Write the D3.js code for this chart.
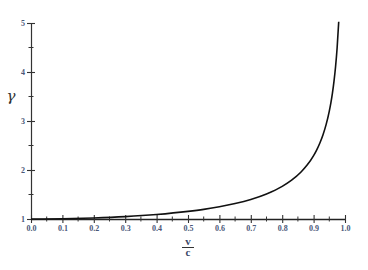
<!DOCTYPE html>
<html>
<head>
<meta charset="utf-8">
<script src="https://cdn.jsdelivr.net/npm/d3@7"></script>
<style>
  body { margin: 0; background: #fff; }
  .tick text { font-family: "Liberation Serif", "DejaVu Serif", serif; font-size: 8px; font-weight: bold; fill: #4a5878; }
</style>
</head>
<body>
<div class="chart"></div>
<script>
var svgWidth = 368;
var svgHeight = 270;

var margin = { top: 23, right: 23, bottom: 51, left: 31 };
var width = svgWidth - margin.left - margin.right;
var height = svgHeight - margin.top - margin.bottom;

// tick values
var xMajor = [0, 0.1, 0.2, 0.3, 0.4, 0.5, 0.6, 0.7, 0.8, 0.9, 1.0];
var xMinor = [0.05, 0.15, 0.25, 0.35, 0.45, 0.55, 0.65, 0.75, 0.85, 0.95];
var yMajor = [1, 2, 3, 4, 5];
var yMinor = [1.5, 2.5, 3.5, 4.5];

// sampled points of the curve gamma = 1/sqrt(1 - (v/c)^2)
var beta = [0, 0.1, 0.2, 0.3, 0.4, 0.5, 0.55, 0.6, 0.65, 0.7, 0.75, 0.8, 0.83, 0.86, 0.88, 0.9, 0.91, 0.92, 0.93, 0.94, 0.95, 0.955, 0.96, 0.965, 0.97, 0.975, 0.98];
var gamma = [1, 1.005, 1.021, 1.048, 1.091, 1.155, 1.197, 1.25, 1.316, 1.4, 1.512, 1.667, 1.793, 1.96, 2.105, 2.294, 2.412, 2.552, 2.721, 2.931, 3.203, 3.371, 3.571, 3.814, 4.113, 4.5, 5.025];

var svg = d3.select(".chart")
  .append("svg")
  .attr("width", svgWidth)
  .attr("height", svgHeight);

var chartGroup = svg.append("g")
  .attr("transform", `translate(${margin.left}, ${margin.top})`);

var xScale = d3.scaleLinear().domain([0, 1]).range([0, width]);
var yScale = d3.scaleLinear().domain([1, 5]).range([height, 0]);

// major ticks with labels; tick lines cross the axis
var xAxis = chartGroup.append("g")
  .attr("transform", `translate(0, ${height})`)
  .call(d3.axisBottom(xScale).tickValues(xMajor).tickSize(4).tickSizeOuter(0).tickFormat(d3.format(".1f")));
xAxis.selectAll(".tick line").attr("y1", -4).attr("stroke", "#333").attr("stroke-width", 1.1);
xAxis.selectAll(".tick text").attr("y", 6);
xAxis.select(".domain").attr("stroke", "#222").attr("stroke-width", 1.5);

var yAxis = chartGroup.append("g")
  .call(d3.axisLeft(yScale).tickValues(yMajor).tickSize(4).tickSizeOuter(0).tickFormat(d3.format("d")));
yAxis.selectAll(".tick line").attr("x1", 4).attr("stroke", "#333").attr("stroke-width", 1.1);
yAxis.selectAll(".tick text").attr("x", -6);
yAxis.select(".domain").attr("stroke", "#333").attr("stroke-width", 1.2);

// minor ticks, shorter
chartGroup.append("g").selectAll("line")
  .data(xMinor).enter().append("line")
  .attr("x1", d => xScale(d)).attr("x2", d => xScale(d))
  .attr("y1", height - 2.5).attr("y2", height + 2.5)
  .attr("stroke", "#333");

chartGroup.append("g").selectAll("line")
  .data(yMinor).enter().append("line")
  .attr("y1", d => yScale(d)).attr("y2", d => yScale(d))
  .attr("x1", -2.5).attr("x2", 2.5)
  .attr("stroke", "#333");

// the curve
var pts = beta.map((b, i) => ({ b: b, g: gamma[i] }));
chartGroup.append("path")
  .datum(pts)
  .attr("fill", "none")
  .attr("stroke", "#111")
  .attr("stroke-width", 1.6)
  .attr("d", d3.line().curve(d3.curveMonotoneX).x(d => xScale(d.b)).y(d => yScale(d.g)));

// axis titles
svg.append("text")
  .attr("x", 11)
  .attr("y", 101)
  .attr("text-anchor", "middle")
  .style("font-family", "'DejaVu Serif', serif")
  .style("font-style", "italic")
  .style("font-size", "15px")
  .style("fill", "#333")
  .text("γ");

var frac = svg.append("g")
  .attr("transform", `translate(${margin.left + xScale(0.5)}, 0)`)
  .style("font-family", "'Liberation Serif', serif")
  .style("font-size", "11px")
  .style("font-weight", "bold")
  .style("fill", "#3a4868");
frac.append("text").attr("x", 0).attr("y", 245).attr("text-anchor", "middle").text("v");
frac.append("line").attr("x1", -6).attr("x2", 6).attr("y1", 247.5).attr("y2", 247.5).attr("stroke", "#333").attr("stroke-width", 1);
frac.append("text").attr("x", 0).attr("y", 256).attr("text-anchor", "middle").text("c");
</script>
</body>
</html>
